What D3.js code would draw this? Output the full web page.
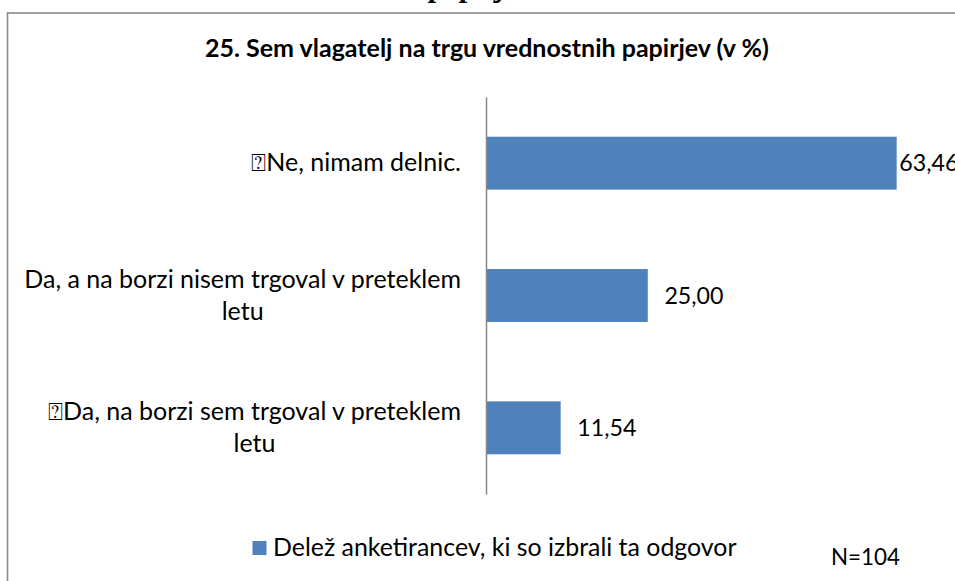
<!DOCTYPE html>
<html>
<head>
<meta charset="utf-8">
<script src="https://cdn.jsdelivr.net/npm/d3@7"></script>
<style>
  html, body { margin: 0; padding: 0; background: #fff; }
  svg { display: block; }
</style>
</head>
<body>
<svg id="chart" width="955" height="581"></svg>
<script>
// ---- data ----
const categories = ["ne", "da_ne", "da_da"];
const categoryLines = [
  ["\u2370Ne, nimam delnic."],
  ["Da, a na borzi nisem trgoval v preteklem", "letu"],
  ["\u2370Da, na borzi sem trgoval v preteklem", "letu"]
];
const values = [63.46, 25.00, 11.54];
const valueLabels = ["63,46", "25,00", "11,54"];
const titleText = "25. Sem vlagatelj na trgu vrednostnih papirjev (v %)";
const legendText = "Delež anketirancev, ki so izbrali ta odgovor";
const noteText = "N=104";
const captionText = "papirjev";
const xDomain = [0, 70];

// ---- layout ----
const FONT = "Lato, 'Open Sans', sans-serif";
const BLUE = "#4F81BD";
const plot = { left: 486, right: 939, top: 97, bottom: 494 };

const svg = d3.select("#chart");

// caption fragment cut off at top (only descenders visible)
svg.append("text")
  .attr("x", 430).attr("y", -4.5)
  .attr("font-family", "'Liberation Serif', serif")
  .attr("font-style", "italic").attr("font-weight", "bold")
  .attr("font-size", 31)
  .text(captionText);

// chart border
svg.append("rect")
  .attr("x", 7.5).attr("y", 13)
  .attr("width", 1000).attr("height", 700)
  .attr("fill", "none")
  .attr("stroke", "#8a8a8a").attr("stroke-width", 1.6);

const x = d3.scaleLinear().domain(xDomain).range([plot.left, plot.right]);
const y = d3.scaleBand().domain(categories).range([plot.top, plot.bottom])
  .paddingInner(0.6).paddingOuter(0.3);

// title
svg.append("text")
  .attr("x", 487).attr("y", 57)
  .attr("text-anchor", "middle")
  .attr("font-family", FONT).attr("font-weight", "bold")
  .attr("font-size", 25).attr("fill", "#000")
  .text(titleText);

// bars
svg.append("g").selectAll("rect")
  .data(values)
  .join("rect")
  .attr("x", x(0))
  .attr("y", (d, i) => y(categories[i]))
  .attr("width", d => x(d) - x(0))
  .attr("height", y.bandwidth())
  .attr("fill", BLUE);

// vertical axis line
const yAxis = d3.axisLeft(y).tickSize(0).tickFormat("");
const gAxis = svg.append("g").attr("transform", `translate(${plot.left},0)`).call(yAxis);
gAxis.select(".domain").attr("stroke", "#888").attr("stroke-width", 1.5);

// category labels (right-aligned block, lines centered within block)
const catG = svg.append("g");
categoryLines.forEach((lines, i) => {
  const cy = y(categories[i]) + y.bandwidth() / 2;
  const lh = 31.7;
  const texts = lines.map((ln, j) => catG.append("text")
    .attr("y", cy + 8.3 + (j - (lines.length - 1) / 2) * lh)
    .attr("font-family", FONT).attr("font-size", 25).attr("fill", "#000")
    .attr("text-anchor", "middle")
    .text(ln));
  const maxW = d3.max(texts, t => t.node().getComputedTextLength());
  const right = 461;
  texts.forEach(t => t.attr("x", right - maxW / 2));
});

// value labels
svg.append("g").selectAll("text")
  .data(values)
  .join("text")
  .attr("x", d => Math.min(x(d) + 16.6, 899.3))
  .attr("y", (d, i) => y(categories[i]) + y.bandwidth() / 2 + 8.3)
  .attr("font-family", FONT).attr("font-size", 23.2).attr("fill", "#000")
  .text((d, i) => valueLabels[i]);

// legend
svg.append("rect")
  .attr("x", 252.5).attr("y", 541)
  .attr("width", 14).attr("height", 14)
  .attr("fill", BLUE);
svg.append("text")
  .attr("x", 273).attr("y", 556)
  .attr("font-family", FONT).attr("font-size", 24.9).attr("fill", "#000")
  .text(legendText);

svg.append("text")
  .attr("x", 831).attr("y", 565)
  .attr("font-family", FONT).attr("font-size", 22.4).attr("fill", "#000")
  .text(noteText);
</script>
</body>
</html>
